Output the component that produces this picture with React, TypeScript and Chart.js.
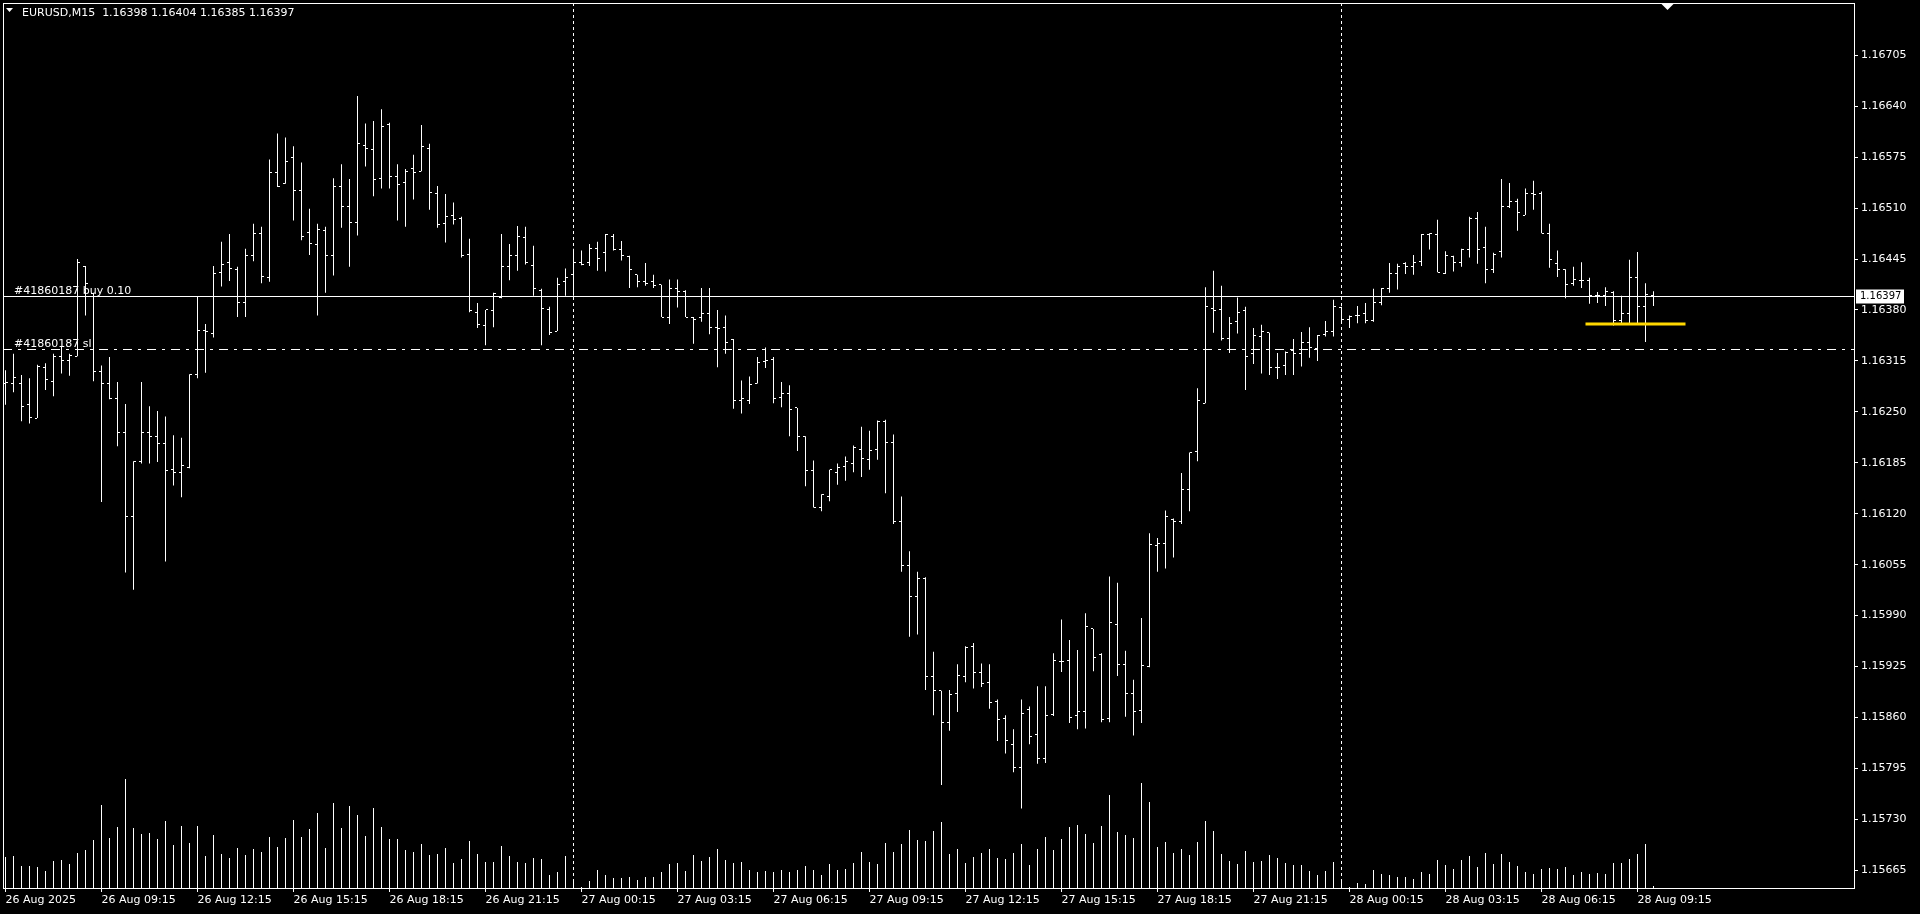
import React, { useEffect, useRef } from "react";
import { Chart, registerables } from "chart.js";

Chart.register(...registerables);

// ---------------- data ----------------
const SYMBOL = "EURUSD,M15";
const ORDER_TICKET = "#41860187";
const ORDER_TEXT = "buy 0.10";
const BUY_PRICE = 1.16397;
const SL_PRICE = 1.1633;
const LEVEL_PRICE = 1.16362;
const LEVEL_FROM_BAR = 197.5;
const LEVEL_TO_BAR = 210;
const DAY_SEPARATOR_BARS = [71, 167];
const BARS_PER_TIME_LABEL = 12;

const X_TICK_LABELS = [
  "26 Aug 2025", "26 Aug 09:15", "26 Aug 12:15", "26 Aug 15:15", "26 Aug 18:15", "26 Aug 21:15",
  "27 Aug 00:15", "27 Aug 03:15", "27 Aug 06:15", "27 Aug 09:15", "27 Aug 12:15", "27 Aug 15:15",
  "27 Aug 18:15", "27 Aug 21:15", "28 Aug 00:15", "28 Aug 03:15", "28 Aug 06:15", "28 Aug 09:15",
];

const Y_TICKS = [
  1.16705, 1.1664, 1.16575, 1.1651, 1.16445, 1.1638, 1.16315, 1.1625, 1.16185,
  1.1612, 1.16055, 1.1599, 1.15925, 1.1586, 1.15795, 1.1573, 1.15665,
];
const Y_MIN = 1.1564116;
const Y_MAX = 1.1677165;
const X_MIN = -0.3125;
const X_MAX = 231.1875;
const VOLUME_AXIS_MAX = 887;

const OPEN = [
  1.16286,1.16286,1.16286,1.16259,1.16242,1.16307,1.16289,1.1632,1.16315,1.16321,
  1.16435,1.16401,1.16302,1.16286,1.16267,1.16223,1.16117,1.16187,1.16223,1.16219,
  1.1621,1.16176,1.16172,1.16179,1.16297,1.16354,1.1635,1.16428,1.1644,1.16432,
  1.16389,1.1645,1.16477,1.16421,1.16555,1.16541,1.16574,1.16532,1.16479,1.16463,
  1.16482,1.1645,1.16537,1.16512,1.16491,1.1659,1.16585,1.16548,1.16616,1.1655,
  1.16543,1.1656,1.16557,1.16586,1.16529,1.1649,1.165,1.16497,1.16451,1.16377,
  1.1636,1.16379,1.16396,1.16436,1.16449,1.16473,1.16437,1.16405,1.16381,1.16353,
  1.16416,1.16425,1.1644,1.1644,1.16458,1.16453,1.16474,1.16457,1.16448,1.16425,
  1.16416,1.16416,1.16412,1.16371,1.16408,1.16404,1.16371,1.1637,1.16376,1.16358,
  1.16357,1.16342,1.16265,1.16264,1.16286,1.16314,1.16317,1.16268,1.16273,1.16255,
  1.16219,1.16175,1.16128,1.16142,1.16173,1.1618,1.16184,1.16202,1.16189,1.16202,
  1.16238,1.16211,1.1611,1.16054,1.16014,1.16037,1.15912,1.15894,1.15854,1.15891,
  1.15912,1.1595,1.15917,1.15905,1.1588,1.15859,1.15826,1.15796,1.1587,1.15838,
  1.15808,1.15864,1.15932,1.15933,1.15862,1.15868,1.15973,1.15941,1.15859,1.15979,
  1.15927,1.15891,1.15869,1.15925,1.1608,1.16082,1.16113,1.1611,1.16151,1.16199,
  1.16261,1.16382,1.1638,1.16343,1.16365,1.16379,1.16325,1.16346,1.16351,1.16307,
  1.16309,1.16328,1.16324,1.16339,1.16331,1.16349,1.16352,1.16383,1.16368,1.16373,
  1.16376,1.16366,1.16389,1.16408,1.16426,1.16439,1.16436,1.16442,1.16476,1.16476,
  1.16427,1.16448,1.16441,1.16457,1.16497,1.1646,1.16432,1.16454,1.16512,1.16518,
  1.16501,1.16529,1.16528,1.16478,1.16439,1.16431,1.16414,1.16418,1.16417,1.16399,
  1.16399,1.16402,1.16366,1.16375,1.16421,1.16384,1.16398,
];

const HIGH = [
  1.16303,1.16324,1.16297,1.16293,1.1631,1.16312,1.16324,1.16334,1.16324,1.16445,
  1.16436,1.16402,1.16309,1.1632,1.16288,1.1626,1.16187,1.16288,1.16257,1.16251,
  1.16244,1.1622,1.16217,1.16298,1.16397,1.16362,1.16436,1.16467,1.16477,1.16435,
  1.16458,1.1649,1.16486,1.16572,1.16605,1.166,1.16589,1.16568,1.16509,1.1649,
  1.16486,1.16548,1.16566,1.16547,1.16653,1.16618,1.16621,1.16636,1.16619,1.16566,
  1.1656,1.16578,1.16616,1.16592,1.16538,1.16528,1.16517,1.16499,1.16471,1.16389,
  1.1638,1.16402,1.16477,1.16464,1.16487,1.16486,1.16462,1.16407,1.16384,1.16421,
  1.16433,1.16458,1.16456,1.16464,1.16467,1.16477,1.16477,1.16468,1.16449,1.16425,
  1.1644,1.16425,1.16412,1.16419,1.16419,1.16405,1.16371,1.16408,1.16408,1.1638,
  1.16373,1.16343,1.1629,1.16295,1.1632,1.16332,1.1632,1.16288,1.16284,1.16255,
  1.16219,1.16188,1.16145,1.16176,1.16184,1.16193,1.16207,1.16231,1.16226,1.16239,
  1.1624,1.16221,1.16142,1.16072,1.16046,1.16039,1.15944,1.15894,1.15895,1.15928,
  1.15951,1.15955,1.15929,1.15928,1.15883,1.15863,1.15845,1.15883,1.15874,1.159,
  1.159,1.15942,1.15985,1.15959,1.15946,1.15993,1.15973,1.15942,1.1604,1.16032,
  1.15945,1.15908,1.15987,1.16095,1.16089,1.16124,1.16114,1.16172,1.16198,1.1628,
  1.16409,1.1643,1.16411,1.16371,1.16396,1.16384,1.16357,1.16361,1.16351,1.16325,
  1.16327,1.16343,1.16352,1.16358,1.16348,1.16366,1.16393,1.16384,1.16373,1.16385,
  1.16389,1.16407,1.16408,1.1644,1.16439,1.16441,1.1645,1.16477,1.16478,1.16495,
  1.16455,1.16449,1.16458,1.16499,1.16505,1.16486,1.16453,1.16547,1.16542,1.16522,
  1.16535,1.16545,1.16531,1.1649,1.16456,1.16432,1.16435,1.16441,1.16421,1.16403,
  1.16409,1.16404,1.16398,1.16444,1.16454,1.16414,1.16404,
];

const LOW = [
  1.16259,1.16275,1.16238,1.16235,1.16242,1.16278,1.1627,1.16299,1.16296,1.16321,
  1.16373,1.16289,1.16135,1.16266,1.16206,1.16045,1.16023,1.16184,1.16184,1.16186,
  1.16059,1.16156,1.16141,1.16178,1.16293,1.163,1.16345,1.1641,1.16417,1.16371,
  1.16371,1.16442,1.16414,1.16416,1.16537,1.16541,1.16494,1.16469,1.1645,1.16373,
  1.16402,1.16424,1.16485,1.16435,1.16475,1.16563,1.16525,1.16535,1.16535,1.16494,
  1.16486,1.16521,1.16557,1.16508,1.16485,1.16466,1.16489,1.16447,1.16377,1.16357,
  1.16335,1.16358,1.16395,1.16418,1.1643,1.16438,1.16398,1.16335,1.16348,1.16353,
  1.16398,1.16398,1.16437,1.16436,1.1643,1.16429,1.16456,1.16443,1.16408,1.16409,
  1.16411,1.16408,1.16371,1.16362,1.16383,1.16371,1.16337,1.16365,1.16349,1.16307,
  1.16324,1.16254,1.16248,1.1626,1.16286,1.16306,1.16261,1.16256,1.16219,1.162,
  1.16155,1.16128,1.16123,1.16136,1.16157,1.16162,1.16173,1.16167,1.16176,1.16189,
  1.16146,1.16107,1.16046,1.15963,1.15966,1.15895,1.15863,1.15774,1.15843,1.15867,
  1.15905,1.15897,1.15899,1.15871,1.1583,1.15814,1.1579,1.15744,1.15826,1.15801,
  1.15802,1.15862,1.15918,1.15853,1.15845,1.15846,1.15919,1.15854,1.15854,1.15913,
  1.15861,1.15837,1.15853,1.15924,1.16046,1.1605,1.16064,1.16107,1.16123,1.16187,
  1.16261,1.16351,1.16341,1.16325,1.1635,1.16278,1.16311,1.16299,1.16297,1.16292,
  1.16297,1.16297,1.16308,1.16319,1.16315,1.16346,1.16346,1.16366,1.16357,1.16363,
  1.16363,1.16365,1.16386,1.16402,1.16406,1.16426,1.16425,1.16436,1.16457,1.16428,
  1.16426,1.16429,1.16435,1.16447,1.16439,1.16414,1.16427,1.16447,1.1651,1.16481,
  1.16501,1.16508,1.16478,1.16434,1.16422,1.16395,1.16411,1.16408,1.16388,1.16389,
  1.16385,1.1636,1.16363,1.16363,1.16363,1.16339,1.16385,
];

const CLOSE = [
  1.16288,1.16294,1.16257,1.16243,1.16308,1.16291,1.1632,1.16316,1.16322,1.1644,
  1.16414,1.16302,1.16286,1.16267,1.16223,1.16116,1.16187,1.16223,1.16219,1.16209,
  1.16175,1.16173,1.16181,1.16297,1.16354,1.16352,1.16426,1.16438,1.16433,1.1639,
  1.16449,1.16477,1.16423,1.16555,1.16538,1.1657,1.16533,1.16474,1.16465,1.16483,
  1.16449,1.16538,1.16512,1.16492,1.16593,1.16586,1.16547,1.16614,1.1655,1.1654,
  1.16557,1.16556,1.16589,1.1653,1.16489,1.16499,1.16496,1.1645,1.16379,1.16362,
  1.1638,1.16401,1.16436,1.16449,1.16474,1.1644,1.16407,1.16382,1.16351,1.16413,
  1.16422,1.1644,1.16438,1.16459,1.16446,1.16476,1.16457,1.16449,1.16431,1.16416,
  1.16414,1.16411,1.16371,1.16408,1.16403,1.16371,1.16368,1.16376,1.16357,1.16356,
  1.16339,1.16264,1.16267,1.16285,1.16313,1.16316,1.16267,1.16273,1.16253,1.16219,
  1.16175,1.16128,1.16144,1.16176,1.16179,1.16187,1.16204,1.1619,1.16201,1.16238,
  1.16211,1.1611,1.16054,1.16015,1.16037,1.15912,1.15894,1.15853,1.15889,1.15914,
  1.15949,1.15917,1.15903,1.15879,1.15857,1.15831,1.15796,1.15865,1.15836,1.15808,
  1.15863,1.15933,1.15932,1.1586,1.15868,1.15976,1.15937,1.15857,1.15981,1.15928,
  1.15891,1.15868,1.15926,1.16081,1.16082,1.16116,1.1611,1.16151,1.16198,1.16264,
  1.16384,1.16379,1.16344,1.16363,1.16377,1.1632,1.16348,1.16353,1.16307,1.16307,
  1.16326,1.16325,1.16339,1.16332,1.16347,1.16352,1.16384,1.16368,1.16372,1.16373,
  1.16366,1.16389,1.16407,1.16426,1.16436,1.16435,1.16441,1.16476,1.16478,1.16428,
  1.16449,1.16441,1.16457,1.16497,1.16457,1.16431,1.16451,1.16512,1.16518,1.16504,
  1.16528,1.16527,1.16478,1.16444,1.16431,1.16412,1.16419,1.16418,1.16399,1.16399,
  1.16404,1.16366,1.16375,1.16422,1.16385,1.164,1.16397,
];

const VOLUME = [
  32,33,23,23,22,18,28,29,25,36,
  39,49,84,51,62,110,61,55,56,50,
  68,44,63,46,63,33,54,35,31,41,
  34,40,37,52,42,51,69,52,60,76,
  41,86,61,83,74,53,81,62,50,50,
  39,37,45,34,35,41,26,30,48,35,
  27,27,43,33,27,26,31,30,14,17,
  33,10,2,8,19,14,11,11,12,9,
  12,12,17,25,26,18,34,28,32,40,
  29,26,27,19,17,18,17,19,17,19,
  23,19,14,25,19,20,26,37,27,25,
  46,37,45,59,49,48,58,67,35,40,
  26,32,36,40,31,30,36,45,24,40,
  52,39,50,62,64,55,46,63,94,57,
  54,51,106,87,42,47,36,40,34,47,
  68,58,35,28,25,38,27,28,34,31,
  26,24,24,18,14,18,27,10,2,6,
  5,19,15,14,12,12,10,17,15,29,
  24,20,29,33,22,36,25,35,27,23,
  17,15,20,21,20,22,14,17,15,16,
  15,26,26,30,35,45,3,
];

// ---------------- rendering ----------------
const FONT_FAMILY = "'DejaVu Sans', sans-serif";
const FONT = "11px " + FONT_FAMILY;

function makeTick(open: boolean): HTMLCanvasElement {
  const c = document.createElement("canvas");
  c.width = 5;
  c.height = 1;
  const g = c.getContext("2d")!;
  g.fillStyle = "#ffffff";
  if (open) g.fillRect(0, 0, 2, 1);
  else g.fillRect(3, 0, 2, 1);
  return c;
}

const mtPlugin = {
  id: "mt4",
  beforeDraw(chart: any) {
    const { ctx, width, height } = chart;
    ctx.save();
    ctx.fillStyle = "#000";
    ctx.fillRect(0, 0, width, height);
    ctx.restore();
  },
  beforeDatasetsDraw(chart: any) {
    const { ctx, chartArea: a, scales } = chart;
    const xs = scales.x;
    const ys = scales.y;
    ctx.save();
    ctx.strokeStyle = "#ffffff";
    ctx.lineWidth = 1;
    ctx.setLineDash([3, 3]);
    for (const b of DAY_SEPARATOR_BARS) {
      const px = Math.floor(xs.getPixelForValue(b)) + 0.5;
      ctx.beginPath();
      ctx.moveTo(px, a.top);
      ctx.lineTo(px, a.bottom);
      ctx.stroke();
    }
    const ySl = Math.floor(ys.getPixelForValue(SL_PRICE)) + 0.5;
    ctx.setLineDash([9, 6, 3, 6]);
    ctx.beginPath();
    ctx.moveTo(a.left, ySl);
    ctx.lineTo(a.right, ySl);
    ctx.stroke();
    const yBuy = Math.floor(ys.getPixelForValue(BUY_PRICE)) + 0.5;
    ctx.setLineDash([]);
    ctx.beginPath();
    ctx.moveTo(a.left, yBuy);
    ctx.lineTo(a.right, yBuy);
    ctx.stroke();
    ctx.font = FONT;
    ctx.fillStyle = "#ffffff";
    ctx.textAlign = "left";
    ctx.textBaseline = "alphabetic";
    ctx.fillText(ORDER_TICKET + " " + ORDER_TEXT, a.left + 11, yBuy - 3);
    ctx.fillText(ORDER_TICKET + " sl", a.left + 11, ySl - 3);
    ctx.restore();
    ctx.imageSmoothingEnabled = false;
  },
  afterDraw(chart: any) {
    const { ctx, chartArea: a, scales } = chart;
    const ys = scales.y;
    ctx.save();
    ctx.strokeStyle = "#ffffff";
    ctx.lineWidth = 1;
    ctx.setLineDash([]);
    ctx.strokeRect(a.left + 0.5, a.top + 0.5, a.right - a.left - 1, a.bottom - a.top - 1);

    // header
    ctx.fillStyle = "#ffffff";
    ctx.beginPath();
    ctx.moveTo(6, 8);
    ctx.lineTo(13, 8);
    ctx.lineTo(9.5, 12);
    ctx.closePath();
    ctx.fill();
    const n = CLOSE.length - 1;
    const hdr =
      SYMBOL + "  " + OPEN[n].toFixed(5) + " " + HIGH[n].toFixed(5) + " " +
      LOW[n].toFixed(5) + " " + CLOSE[n].toFixed(5);
    ctx.font = FONT;
    ctx.textAlign = "left";
    ctx.textBaseline = "alphabetic";
    ctx.fillText(hdr, 22, 16);

    // chart shift marker
    const sx = a.right - 187.5;
    ctx.beginPath();
    ctx.moveTo(sx - 6, a.top + 1);
    ctx.lineTo(sx + 6, a.top + 1);
    ctx.lineTo(sx, a.top + 7);
    ctx.closePath();
    ctx.fill();

    // current price label
    const yc = Math.floor(ys.getPixelForValue(CLOSE[n])) + 0.5;
    ctx.fillStyle = "#ffffff";
    ctx.fillRect(a.right + 1, yc - 7, 48, 14);
    ctx.fillStyle = "#000000";
    ctx.font = "10px " + FONT_FAMILY;
    ctx.textBaseline = "middle";
    ctx.fillText(CLOSE[n].toFixed(5), a.right + 5, yc);
    ctx.restore();
  },
};

export default function App() {
  const ref = useRef<HTMLCanvasElement>(null);
  useEffect(() => {
    const canvas = ref.current!;
    const openImg = makeTick(true);
    const closeImg = makeTick(false);
    const idx = OPEN.map((_, i) => i);
    const chart = new Chart(canvas, {
      type: "bar",
      data: {
        datasets: [
          {
            type: "line",
            label: "level",
            data: [
              { x: LEVEL_FROM_BAR, y: LEVEL_PRICE },
              { x: LEVEL_TO_BAR, y: LEVEL_PRICE },
            ],
            borderColor: "#FFD700",
            borderWidth: 3,
            pointRadius: 0,
            yAxisID: "y",
            order: 0,
          } as any,
          {
            type: "line",
            label: "open",
            data: idx.map((i) => ({ x: i, y: OPEN[i] })),
            showLine: false,
            pointStyle: openImg,
            pointRadius: 2,
            pointHoverRadius: 2,
            yAxisID: "y",
            order: 1,
          } as any,
          {
            type: "line",
            label: "close",
            data: idx.map((i) => ({ x: i, y: CLOSE[i] })),
            showLine: false,
            pointStyle: closeImg,
            pointRadius: 2,
            pointHoverRadius: 2,
            yAxisID: "y",
            order: 1,
          } as any,
          {
            type: "bar",
            label: "range",
            data: idx.map((i) => ({ x: i, y: [LOW[i], HIGH[i]] })),
            backgroundColor: "#ffffff",
            borderWidth: 0,
            barThickness: 1,
            maxBarThickness: 1,
            inflateAmount: 0,
            grouped: false,
            yAxisID: "y",
            order: 2,
          } as any,
          {
            type: "bar",
            label: "volume",
            data: idx.map((i) => ({ x: i, y: VOLUME[i] })),
            backgroundColor: "#ffffff",
            borderWidth: 0,
            barThickness: 1,
            maxBarThickness: 1,
            inflateAmount: 0,
            grouped: false,
            yAxisID: "yv",
            order: 3,
          } as any,
        ],
      },
      options: {
        responsive: false,
        animation: false,
        devicePixelRatio: 1,
        events: [],
        layout: { padding: { left: 3, top: 2, right: 0, bottom: 0 } },
        plugins: { legend: { display: false }, tooltip: { enabled: false } },
        scales: {
          x: {
            type: "linear",
            min: X_MIN,
            max: X_MAX,
            offset: false,
            afterBuildTicks: (s: any) => {
              s.ticks = X_TICK_LABELS.map((_, k) => ({ value: k * BARS_PER_TIME_LABEL }));
            },
            afterFit: (s: any) => {
              s.height = 25;
              s.paddingLeft = 0;
              s.paddingRight = 0;
            },
            ticks: {
              color: "#ffffff",
              font: { family: FONT_FAMILY, size: 11 },
              align: "start",
              padding: 2,
              maxRotation: 0,
              minRotation: 0,
              autoSkip: false,
              callback: (_v: any, i: number) => X_TICK_LABELS[i] ?? "",
            },
            grid: {
              display: true,
              offset: false,
              drawOnChartArea: false,
              drawTicks: true,
              tickLength: 3,
              color: "#ffffff",
            },
            border: { display: false },
          },
          y: {
            type: "linear",
            position: "right",
            min: Y_MIN,
            max: Y_MAX,
            afterBuildTicks: (s: any) => {
              s.ticks = Y_TICKS.map((v) => ({ value: v }));
            },
            afterFit: (s: any) => {
              s.width = 65;
              s.paddingTop = 0;
              s.paddingBottom = 0;
            },
            ticks: {
              color: "#ffffff",
              font: { family: FONT_FAMILY, size: 11 },
              padding: 3,
              autoSkip: false,
              callback: (v: any) => Number(v).toFixed(5),
            },
            grid: {
              display: true,
              drawOnChartArea: false,
              drawTicks: true,
              tickLength: 3,
              color: "#ffffff",
            },
            border: { display: false },
          },
          yv: {
            type: "linear",
            display: false,
            min: 0,
            max: VOLUME_AXIS_MAX,
          },
        },
      } as any,
      plugins: [mtPlugin],
    });
    return () => chart.destroy();
  }, []);

  return (
    <div
      style={{
        position: "fixed",
        left: 0,
        top: 0,
        width: 1920,
        height: 914,
        background: "#000",
      }}
    >
      <canvas ref={ref} width={1920} height={914} style={{ display: "block" }} />
    </div>
  );
}
